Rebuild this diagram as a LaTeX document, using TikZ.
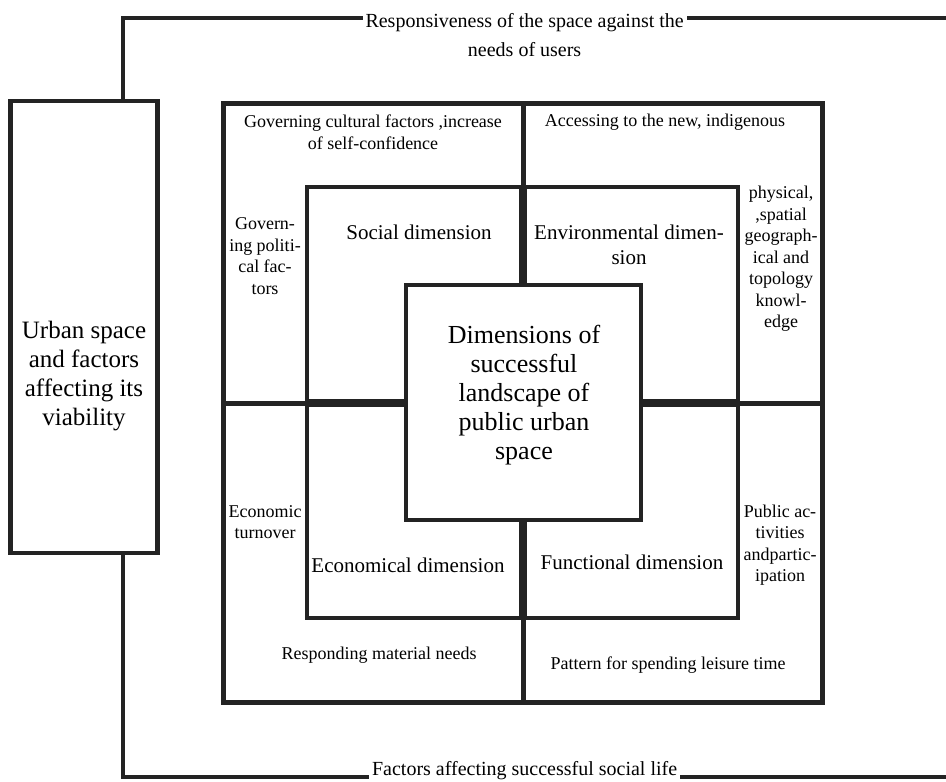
\documentclass[tikz,border=0pt]{standalone}
\usepackage{fontspec}
\setmainfont{Liberation Serif}
\definecolor{ink}{HTML}{232323}

\begin{document}
\begin{tikzpicture}[x=1pt, y=-1pt,
  frame/.style={draw=ink, line width=5pt},
  ring/.style={draw=ink, line width=4.5pt},
  divider/.style={draw=ink, line width=5pt},
  link/.style={draw=ink, line width=4.5pt},
  side node/.style={rectangle, draw=ink, line width=4.5pt, minimum width=147pt, minimum height=452pt, inner sep=0pt, outer sep=0pt},
  big text/.style={align=center, font=\fontsize{25}{29}\selectfont},
  core text/.style={align=center, font=\fontsize{26}{29}\selectfont},
  dim text/.style={align=center, font=\fontsize{21}{25}\selectfont},
  small text/.style={align=center, font=\fontsize{18}{21.5}\selectfont, inner sep=0pt},
  edge text/.style={align=center, font=\fontsize{20}{29}\selectfont, fill=white, inner xsep=3pt, inner ysep=1pt}]
\useasboundingbox (0,0) rectangle (946,782);
\begin{scope}
\draw[frame] (223,103) rectangle (822,702);
\draw[divider] (523,103) -- (523,285) (523,520) -- (523,702) (223,403) -- (406,403) (641,403) -- (822,403);
\draw[divider, line width=8pt] (523,187) -- (523,285) (523,520) -- (523,618) (307,403) -- (406,403) (641,403) -- (738,403);
\draw[ring] (307,187) rectangle (738,618);
\draw[ring] (406,285) rectangle (641,520);
\end{scope}
\begin{scope}
\node[small text] (cultural) at (373,132) {Governing cultural factors ,increase\\of self-confidence};
\node[small text] (access) at (665,122) {Accessing to the new, indigenous};
\node[small text] (political) at (265,256) {Govern-\\ing politi-\\cal fac-\\tors};
\node[dim text] (social) at (419,232) {Social dimension};
\node[dim text] (environ) at (629,245) {Environmental dimen-\\sion};
\node[small text] (physical) at (781,259) {physical,\\,spatial\\geograph-\\ical and\\topology\\knowl-\\edge};
\node[core text] (core) at (524,395) {Dimensions of\\successful\\landscape of\\public urban\\space};
\node[small text] (turnover) at (265,522) {Economic\\turnover};
\node[dim text] (economic) at (408,565) {Economical dimension};
\node[dim text] (functional) at (632,562) {Functional dimension};
\node[small text] (public) at (780,545) {Public ac-\\tivities\\andpartic-\\ipation};
\node[small text] (material) at (379,655) {Responding material needs};
\node[small text] (leisure) at (668,665) {Pattern for spending leisure time};
\node[side node] (urban) at (84,327) {};
\node[big text] (urbantext) at (84,376) {Urban space\\and factors\\affecting its\\viability};
\coordinate (topend) at (946,18);
\coordinate (botend) at (946,777);
\end{scope}
\begin{scope}
\draw[link] ([xshift=39pt]urban.north) |- (topend) node[edge text, pos=0.744, anchor=north, yshift=7.7pt] (needs) {Responsiveness of the space against the\\needs of users};
\draw[link] ([xshift=39pt]urban.south) |- (botend) node[edge text, pos=0.744, anchor=base, yshift=1.5pt] (sociallife) {Factors affecting successful social life};
\end{scope}
\end{tikzpicture}
\end{document}
